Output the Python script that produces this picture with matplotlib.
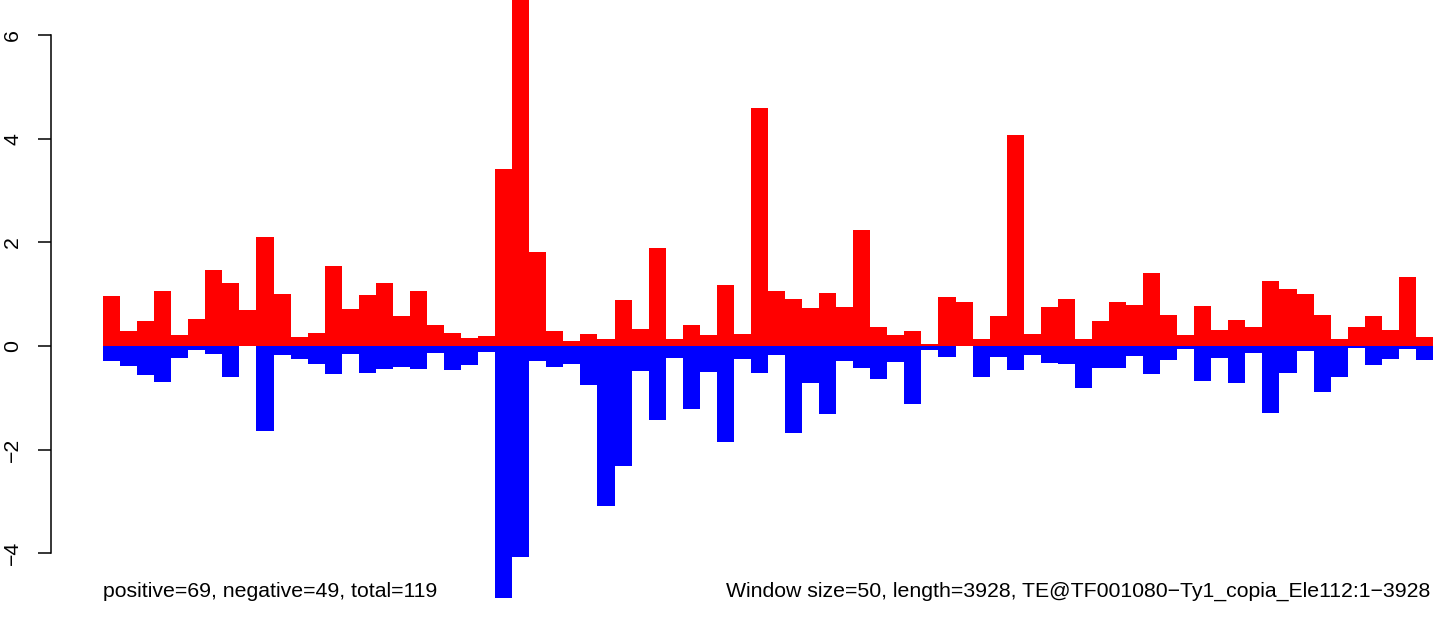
"""Sliding-window strand plot: red above zero, blue below, one bar per 50 bp window."""
import numpy as np
import matplotlib
matplotlib.use("Agg")
import matplotlib.pyplot as plt

plt.rcParams["font.family"] = ["Liberation Sans", "DejaVu Sans"]

# values per window, 78 windows
pos_vals = [0.96, 0.28, 0.48, 1.06, 0.21, 0.53, 1.46, 1.21, 0.69, 2.10,
            1.00, 0.17, 0.26, 1.54, 0.71, 0.98, 1.21, 0.57, 1.07, 0.40,
            0.26, 0.15, 0.19, 3.42, 7.50, 1.81, 0.28, 0.09, 0.24, 0.13,
            0.88, 0.32, 1.90, 0.13, 0.40, 0.21, 1.17, 0.24, 4.59, 1.07,
            0.90, 0.73, 1.02, 0.75, 2.23, 0.36, 0.21, 0.28, 0.03, 0.94,
            0.84, 0.13, 0.57, 4.08, 0.23, 0.75, 0.90, 0.13, 0.48, 0.84,
            0.79, 1.40, 0.59, 0.21, 0.77, 0.30, 0.50, 0.36, 1.25, 1.11,
            1.00, 0.59, 0.13, 0.36, 0.57, 0.30, 1.33, 0.17]
neg_vals = [-0.28, -0.39, -0.56, -0.70, -0.24, -0.08, -0.16, -0.60, 0.00, -1.64,
            -0.18, -0.26, -0.35, -0.55, -0.16, -0.53, -0.45, -0.41, -0.45, -0.14,
            -0.47, -0.37, -0.12, -4.86, -4.07, -0.28, -0.41, -0.35, -0.76, -3.09,
            -2.32, -0.48, -1.43, -0.24, -1.22, -0.51, -1.85, -0.26, -0.52, -0.18,
            -1.68, -0.71, -1.31, -0.28, -0.42, -0.64, -0.31, -1.12, -0.08, -0.21,
            0.00, -0.60, -0.21, -0.46, -0.17, -0.33, -0.35, -0.81, -0.42, -0.42,
            -0.19, -0.54, -0.27, -0.06, -0.67, -0.23, -0.71, -0.14, -1.29, -0.52,
            -0.10, -0.89, -0.60, -0.04, -0.37, -0.25, -0.06, -0.27]
y_ticks = [-4, -2, 0, 2, 4, 6]

left_note = "positive=69, negative=49, total=119"
right_note = "Window size=50, length=3928, TE@TF001080\u2212Ty1_copia_Ele112:1\u22123928"

W, H = 1441, 617
fig = plt.figure(figsize=(W / 100, H / 100), dpi=100)

ax_left = 50.5
ax = fig.add_axes([ax_left / W, 0, (W - ax_left) / W, 1])

x = np.arange(len(pos_vals))
ax.bar(x, pos_vals, width=1.0, align="edge", color="#ff0000", linewidth=0)
ax.bar(x, neg_vals, width=1.0, align="edge", color="#0000ff", linewidth=0)

# pixel geometry of the original: 17.05 px per window, 51.8 px per unit
px_x, px_y = 17.05, 51.8
x0 = -(103 - ax_left) / px_x
ax.set_xlim(x0, x0 + (W - ax_left) / px_x)
ax.set_ylim(-(H - 346) / px_y, 346 / px_y)

for s in ["top", "right", "bottom"]:
    ax.spines[s].set_visible(False)
ax.spines["left"].set_bounds(-4, 6)
ax.spines["left"].set_linewidth(1.1)
ax.set_xticks([])
ax.set_yticks(y_ticks)
ax.set_yticklabels([str(t).replace("-", "\u2212") for t in y_ticks])
ax.tick_params(axis="y", length=9.4, width=1.1, pad=11, labelsize=15.3,
               labelrotation=90)
for lab in ax.get_yticklabels():
    lab.set_va("center")

fig.text(103 / W, (H - 597) / H, left_note, ha="left", va="baseline", fontsize=15.3)
fig.text(1430 / W, (H - 597) / H, right_note, ha="right", va="baseline", fontsize=15.3)

fig.savefig("out.png", dpi=100)
